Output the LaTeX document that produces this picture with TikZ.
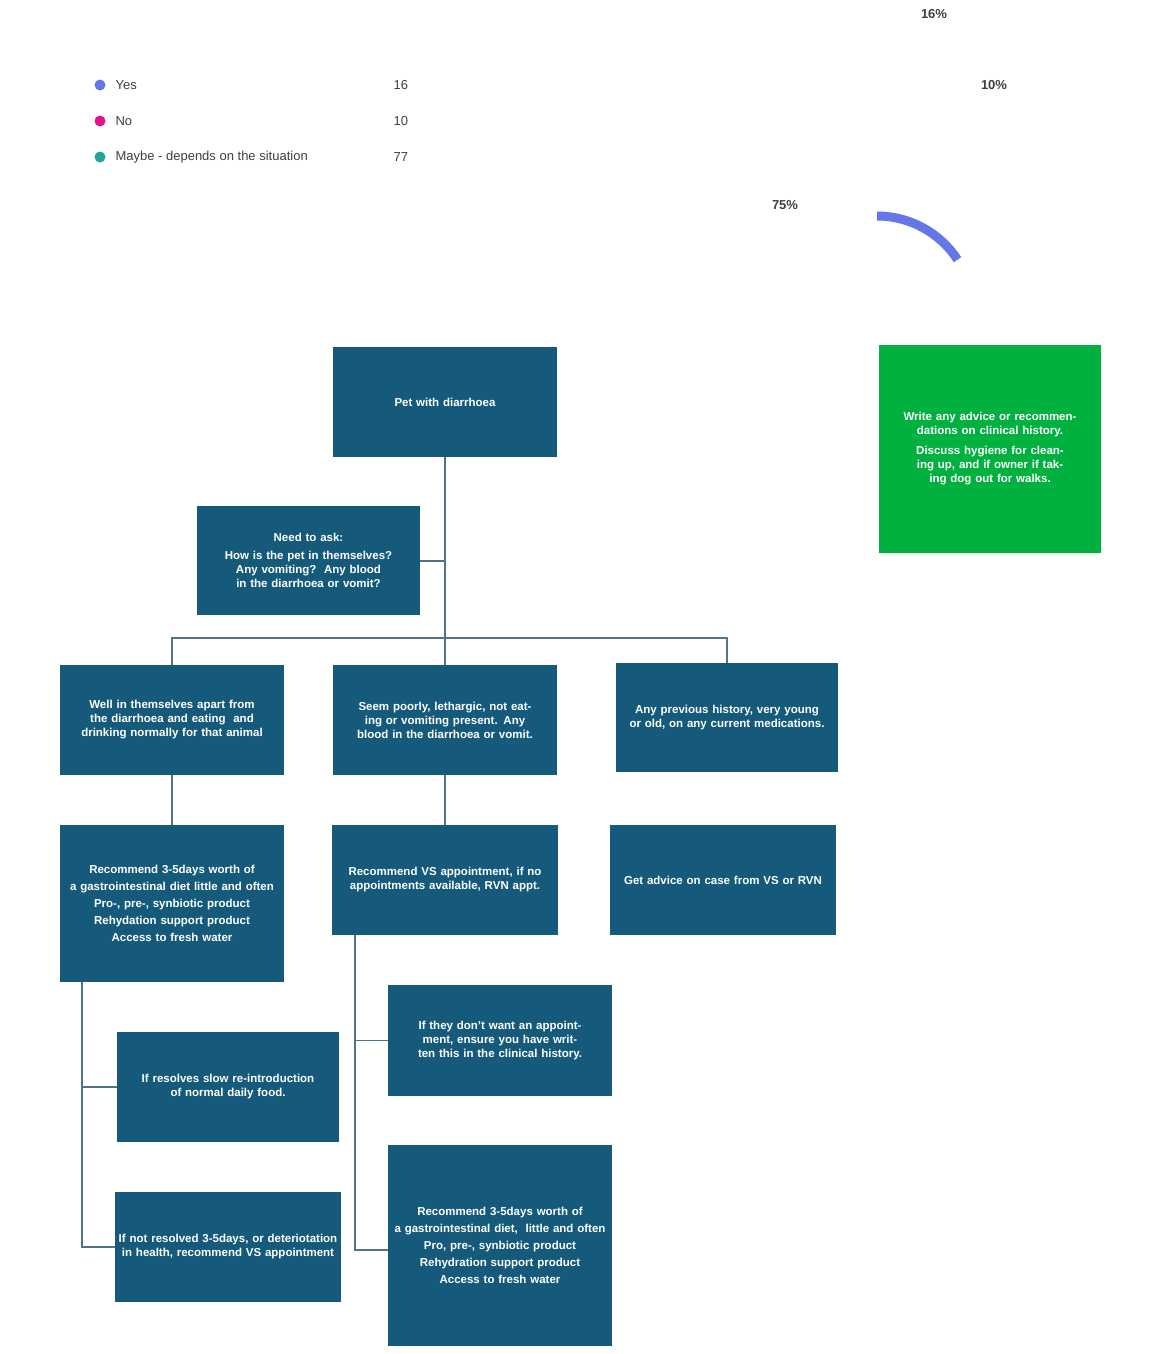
\documentclass[tikz,border=0pt]{standalone}
\usepackage{fontspec}
\setmainfont{Liberation Sans}
\begin{document}
\begin{tikzpicture}[x=1pt,y=-1pt,
  bx/.style={draw=none,fill=boxblue,text=white,font=\bfseries\fontsize{11.5}{14}\selectfont,align=center,inner sep=2pt},
  ln/.style={draw=lineblue,line width=1.6pt},
  lg/.style={font=\fontsize{13}{15}\selectfont,text=black!75,anchor=west}]
\definecolor{boxblue}{HTML}{155A7B}
\definecolor{lineblue}{HTML}{4E7488}
\definecolor{grn}{HTML}{00B140}
\definecolor{dyes}{HTML}{6577E6}
\definecolor{dno}{HTML}{E0148C}
\definecolor{dmay}{HTML}{26A3A0}
\useasboundingbox (0,0) rectangle (1151,1354);
\fill[white] (0,0) rectangle (1151,1354);
% legend
\fill[dyes] (100,85) circle (5.5); \fill[dno] (100,121) circle (5.5); \fill[dmay] (100,157) circle (5.5);
\node[lg] (ly) at (112,85) {Yes}; \node[lg] (ln) at (112,121) {No}; \node[lg] (lm) at (112,157) {Maybe - depends on the situation};
\node[lg] (ny) at (390,85) {16}; \node[lg] (nn) at (390,121) {10}; \node[lg] (nm) at (390,157) {77};
% donut
\def\r{96}
\draw[dyes,line width=9pt] (877,120) ++(90:\r) arc[start angle=-90,end angle=-33,radius=\r];
\coordinate (c) at (877,120);
\begin{scope}[y=1pt]
\end{scope}
\node[font=\fontsize{13}{15}\selectfont\bfseries,text=black!75] (p16) at (934,14) {16\%};
\node[font=\fontsize{13}{15}\selectfont\bfseries,text=black!75] (p10) at (994,85) {10\%};
\node[font=\fontsize{13}{15}\selectfont\bfseries,text=black!75] (p75) at (785,205) {75\%};
% boxes
\newcommand{\bxat}[6]{\node[bx,minimum width=#3-#1,minimum height=#4-#2,text width=#3-#1-8,#6] (#5) at ({(#1+#3)/2},{(#2+#4)/2}) {};}
\node[bx,minimum width=224,minimum height=110,text width=216] (pet) at (445,402) {Pet with diarrhoea};
\node[bx,minimum width=223,minimum height=109,text width=215] (ask) at (308.5,560.5) {Need to ask:\\[4pt]How is the pet in themselves? Any vomiting?\ \ Any blood in the diarrhoea or vomit?};
\node[bx,fill=grn,minimum width=222,minimum height=208,text width=200] (gr) at (990,449) {Write any advice or recommendations on clinical history.\\[6pt]Discuss hygiene for cleaning up, and if owner if taking dog out for walks.};
\node[bx,minimum width=224,minimum height=110,text width=220] (well) at (172,720) {Well in themselves apart from the diarrhoea and eating\ \ and drinking normally for that animal};
\node[bx,minimum width=224,minimum height=110,text width=220] (seem) at (445,720) {Seem poorly, lethargic, not eating or vomiting present. Any blood in the diarrhoea or vomit.};
\node[bx,minimum width=222,minimum height=109,text width=218] (prev) at (727,717.5) {Any previous history, very young or old, on any current medications.};
\node[bx,minimum width=224,minimum height=157,text width=216] (recl) at (172,903.5) {Recommend 3-5days worth of\\[3pt] a gastrointestinal diet little and often\\[3pt]Pro-, pre-, synbiotic product\\[3pt]Rehydation support product\\[3pt]Access to fresh water};
\node[bx,minimum width=224,minimum height=110,text width=222] (vs) at (445,880) {Recommend VS appointment, if no appointments available, RVN appt.};
\node[bx,minimum width=224,minimum height=110,text width=222] (adv) at (723,880) {Get advice on case from VS or RVN};
\node[bx,minimum width=224,minimum height=111,text width=218] (dont) at (500,1040.5) {If they don't want an appointment, ensure you have written this in the clinical history.};
\node[bx,minimum width=222,minimum height=110,text width=218] (res) at (228,1087) {If resolves slow re-introduction of normal daily food.};
\node[bx,minimum width=222,minimum height=110,text width=222] (nres) at (228,1247) {If not resolved 3-5days, or deteriotation in health, recommend VS appointment};
\node[bx,minimum width=224,minimum height=201,text width=216] (recb) at (500,1245.5) {Recommend 3-5days worth of\\[3pt] a gastrointestinal diet,\ \ little and often\\[3pt]Pro, pre-, synbiotic product\\[3pt]Rehydration support product\\[3pt]Access to fresh water};
% connectors
\coordinate (j) at (445,638);
\draw[ln] (pet.south) -- (j);
\draw[ln] (ask.east |- 0,561) -- (445,561);
\draw[ln] (well.north) |- (j) -| (prev.north);
\draw[ln] (j) -- (seem.north);
\draw[ln] (well.south) -- (recl.north);
\draw[ln] (seem.south) -- (vs.south |- seem.south) -- (vs.north);
\draw[ln] (82,982) |- (res.west);
\draw[ln] (82,1087) |- (nres.west);
\draw[ln] (355,935) |- (dont.west);
\draw[ln] (355,1040) |- (recb.west |- 0,1250);
\end{tikzpicture}
\end{document}
